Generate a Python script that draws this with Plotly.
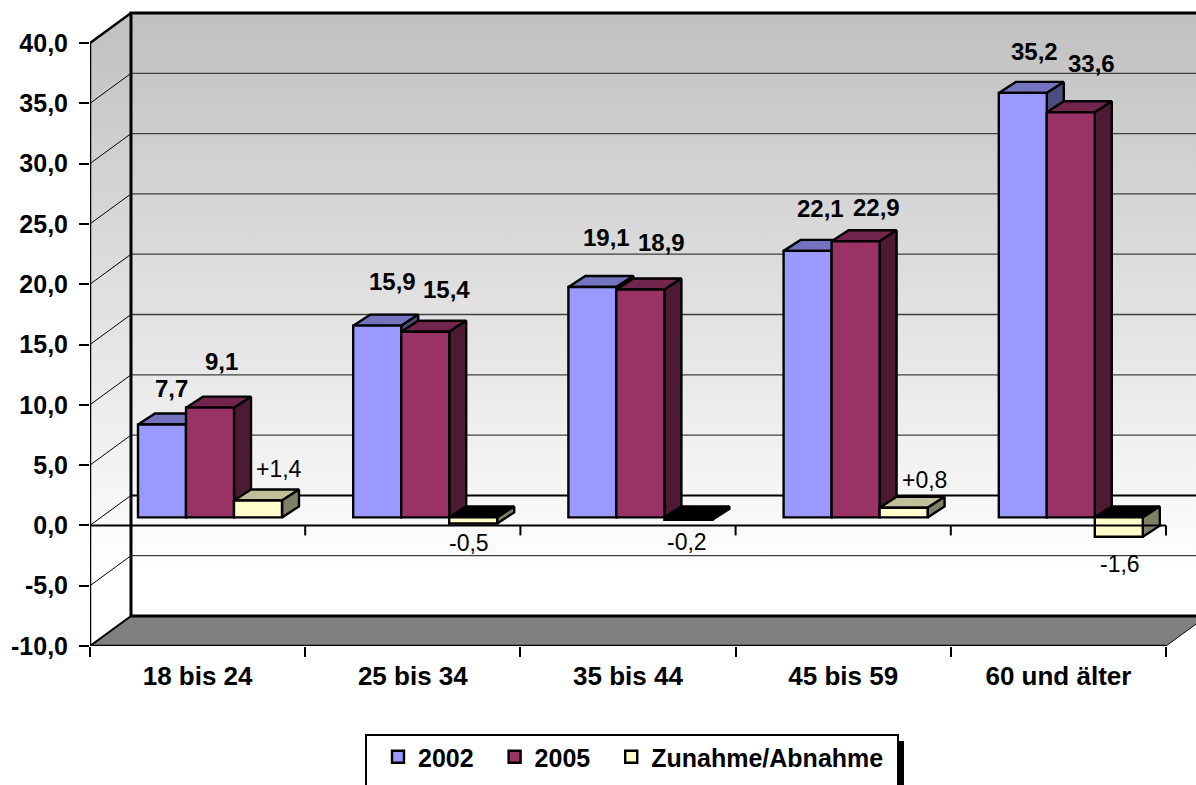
import plotly.graph_objects as go

# ---- data ----
categories = ["18 bis 24", "25 bis 34", "35 bis 44", "45 bis 59", "60 und älter"]
values_2002 = [7.7, 15.9, 19.1, 22.1, 35.2]
values_2005 = [9.1, 15.4, 18.9, 22.9, 33.6]
values_change = [1.4, -0.5, -0.2, 0.8, -1.6]
y_ticks = [-10, -5, 0, 5, 10, 15, 20, 25, 30, 35, 40]
series_names = ["2002", "2005", "Zunahme/Abnahme"]

# ---- styles ----
FONT = "Liberation Sans, Arial, sans-serif"
FONT_SIZE = 24
BAR_LINE = 2.4
front = ["#9999FF", "#993366", "#FFFFCC"]
top = ["#7373BF", "#73264D", "#BFBF99"]
side = ["#4D4D80", "#4D1A33", "#808066"]
legend_pad = ["\u00a0\u00a0\u200a", "\u00a0\u00a0\u200a", ""]

# ---- geometry (px -> axis scale) ----
W, H = 1196, 785
L, T, B = 90, 6, 139
CAT_PX = 215.2
UNIT_PX = 12.06
plot_w, plot_h = W - L, H - T - B
x_range = [0, plot_w / CAT_PX]
y_range = [-10, -10 + plot_h / UNIT_PX]
wall_dx, wall_dy = 41 / CAT_PX, 30 / UNIT_PX
bar_dx, bar_dy = 17 / CAT_PX, 11 / UNIT_PX
lift = 8 / UNIT_PX
bar_w = 48 / CAT_PX
n = len(categories)
bar_centres = [[i + bar_w * (1 + s + 0.5) for i in range(n)] for s in range(3)]
series = [values_2002, values_2005, values_change]
far_right = x_range[1] + 1


def paper_x(px):
    return (px - L) / plot_w


def paper_y(px):
    return (H - B - px) / plot_h


fig = go.Figure()


def poly(xs, ys, fill=None, line="black", lw=2, **kw):
    fig.add_trace(go.Scatter(x=xs, y=ys, mode="lines", fill="toself" if fill or "fillgradient" in kw else None,
                             fillcolor=fill, line=dict(color=line, width=lw), showlegend=False,
                             hoverinfo="skip", cliponaxis=False, **kw))


grad = dict(type="vertical", start=-4, stop=42.5,
            colorscale=[[0, "#FFFFFF"], [1, "#C0C0C0"]])
clear = "rgba(0,0,0,0)"

# back wall and side wall
poly([wall_dx, far_right, far_right, wall_dx, wall_dx],
     [-10 + wall_dy, -10 + wall_dy, 40 + wall_dy, 40 + wall_dy, -10 + wall_dy],
     lw=0, line=clear, fillgradient=grad)
poly([0, wall_dx, wall_dx, 0, 0], [-10, -10 + wall_dy, 40 + wall_dy, 40, -10], lw=0, line=clear, fillgradient=grad)
# floor
poly([0, wall_dx, 5 + wall_dx, 5, 0], [-10, -10 + wall_dy, -10 + wall_dy, -10, -10], fill="#808080", lw=0, line=clear)

# gridlines on the walls
gx, gy = [], []
for v in y_ticks[1:-1]:
    if v != 0:
        gx += [wall_dx, far_right, None]
        gy += [v + wall_dy, v + wall_dy, None]
poly(gx, gy, line="#404040", lw=1.3)
dx, dy = [], []
for v in y_ticks[1:-1]:
    dx += [0, wall_dx, None]
    dy += [v, v + wall_dy, None]
poly(dx, dy, line="black", lw=1)
poly([wall_dx, far_right], [wall_dy, wall_dy], line="black", lw=2)

# wall / floor outlines
poly([far_right, wall_dx, wall_dx, far_right], [40 + wall_dy, 40 + wall_dy, -10 + wall_dy, -10 + wall_dy], lw=3)
poly([0, wall_dx], [40, 40 + wall_dy], lw=2.5)
poly([0, wall_dx], [-10, -10 + wall_dy], lw=2)
poly([5, 5 + wall_dx], [-10, -10 + wall_dy], lw=1)
poly([0, 0, 5], [40, -10, -10], lw=2.5)

# bar top and side faces
for i in range(n):
    for s in range(3):
        v = series[s][i]
        xl = bar_centres[s][i] - bar_w / 2
        xr = xl + bar_w
        t = max(v, 0) + lift
        b = min(v, 0) + lift
        poly([xl, xl + bar_dx, xr + bar_dx, xr, xl], [t, t + bar_dy, t + bar_dy, t, t],
             fill=top[s] if v >= 0 else "#000000", lw=BAR_LINE)
        poly([xr, xr + bar_dx, xr + bar_dx, xr, xr], [t, t + bar_dy, b + bar_dy, b, t], fill=side[s], lw=BAR_LINE)

# bar fronts, on an overlay whose zero sits above the front axis zero
for s in range(3):
    fig.add_trace(go.Bar(x=bar_centres[s], y=series[s], width=bar_w, name=series_names[s] + legend_pad[s],
                         marker=dict(color=front[s], line=dict(color="black", width=BAR_LINE)),
                         xaxis="x2", yaxis="y2", hoverinfo="skip"))

# front zero line with its ticks, above the bars
zx, zy = [-10 / CAT_PX, 5, None], [-lift, -lift, None]
for i in range(1, n + 1):
    zx += [i, i, None]
    zy += [-lift, -lift - 10 / UNIT_PX, None]
fig.add_trace(go.Scatter(x=zx, y=zy, mode="lines", line=dict(color="black", width=2), xaxis="x2", yaxis="y2",
                         showlegend=False, hoverinfo="skip", cliponaxis=False))


def fmt(v, signed=False):
    t = f"{abs(v):.1f}".replace(".", ",")
    if v < 0:
        return "-" + t
    return ("+" + t) if signed else t


# label offsets from the bar end, in px (right, up)
offsets = [
    [(9, 36), (11, 46), (21, 32)],
    [(15, 44), (21, 42), (-4, -20)],
    [(14, 50), (21, 47), (-1, -22)],
    [(13, 42), (21, 34), (21, 28)],
    [(12, 41), (21, 49), (1, -27)],
]
annotations = []
for i in range(n):
    for s in range(3):
        v = series[s][i]
        annotations.append(dict(
            x=bar_centres[s][i], y=v, xref="x2", yref="y2", text=fmt(v, s == 2), showarrow=False,
            xshift=offsets[i][s][0], yshift=offsets[i][s][1], xanchor="center", yanchor="middle",
            font=dict(family=FONT, size=FONT_SIZE - 1 if s == 2 else FONT_SIZE, color="black",
                      weight=400 if s == 2 else 700)))

x_font = dict(family=FONT, size=26, color="black", weight=700)
y_font = dict(family=FONT, size=25, color="black", weight=700)

fig.update_layout(
    width=W, height=H, autosize=False, paper_bgcolor="white", plot_bgcolor="white",
    margin=dict(l=L, r=0, t=T, b=B, autoexpand=False), barmode="overlay",
    xaxis=dict(domain=[0, 1], range=x_range, tickvals=[i + 0.5 for i in range(n)], ticktext=categories, ticks="",
               tickfont=x_font, showgrid=False, zeroline=False, showline=False, ticklabelstandoff=12,
               minor=dict(tickvals=list(range(n + 1)), ticks="outside", ticklen=10, tickwidth=2, tickcolor="black",
                          showgrid=False)),
    yaxis=dict(domain=[0, 1], range=y_range, tickvals=y_ticks, ticktext=[fmt(v) for v in y_ticks], ticks="outside",
               ticklen=10, tickwidth=2, tickcolor="black", tickfont=y_font, showgrid=False, zeroline=False,
               showline=False, ticklabelstandoff=6),
    xaxis2=dict(overlaying="x", range=x_range, visible=False, anchor="y2"),
    yaxis2=dict(overlaying="y", range=[y_range[0] - lift, y_range[1] - lift], visible=False, anchor="x2"),
    legend=dict(orientation="h", x=paper_x(378), xanchor="left", y=paper_y(734), yanchor="top",
                bgcolor=clear, borderwidth=0, font=dict(family=FONT, size=25, color="black", weight=700),
                traceorder="normal"),
    annotations=annotations,
    shapes=[
        dict(type="rect", xref="paper", yref="paper", x0=paper_x(366), x1=paper_x(898), y0=paper_y(800),
             y1=paper_y(735), line=dict(color="black", width=2), fillcolor="white", layer="below"),
        dict(type="rect", xref="paper", yref="paper", x0=paper_x(898), x1=paper_x(904), y0=paper_y(800),
             y1=paper_y(741), line=dict(width=0), fillcolor="black", layer="below"),
    ],
)
fig.write_html("out.html", config=dict(displayModeBar=False),
               post_script="document.body.style.margin='0';document.body.style.overflow='hidden';")
